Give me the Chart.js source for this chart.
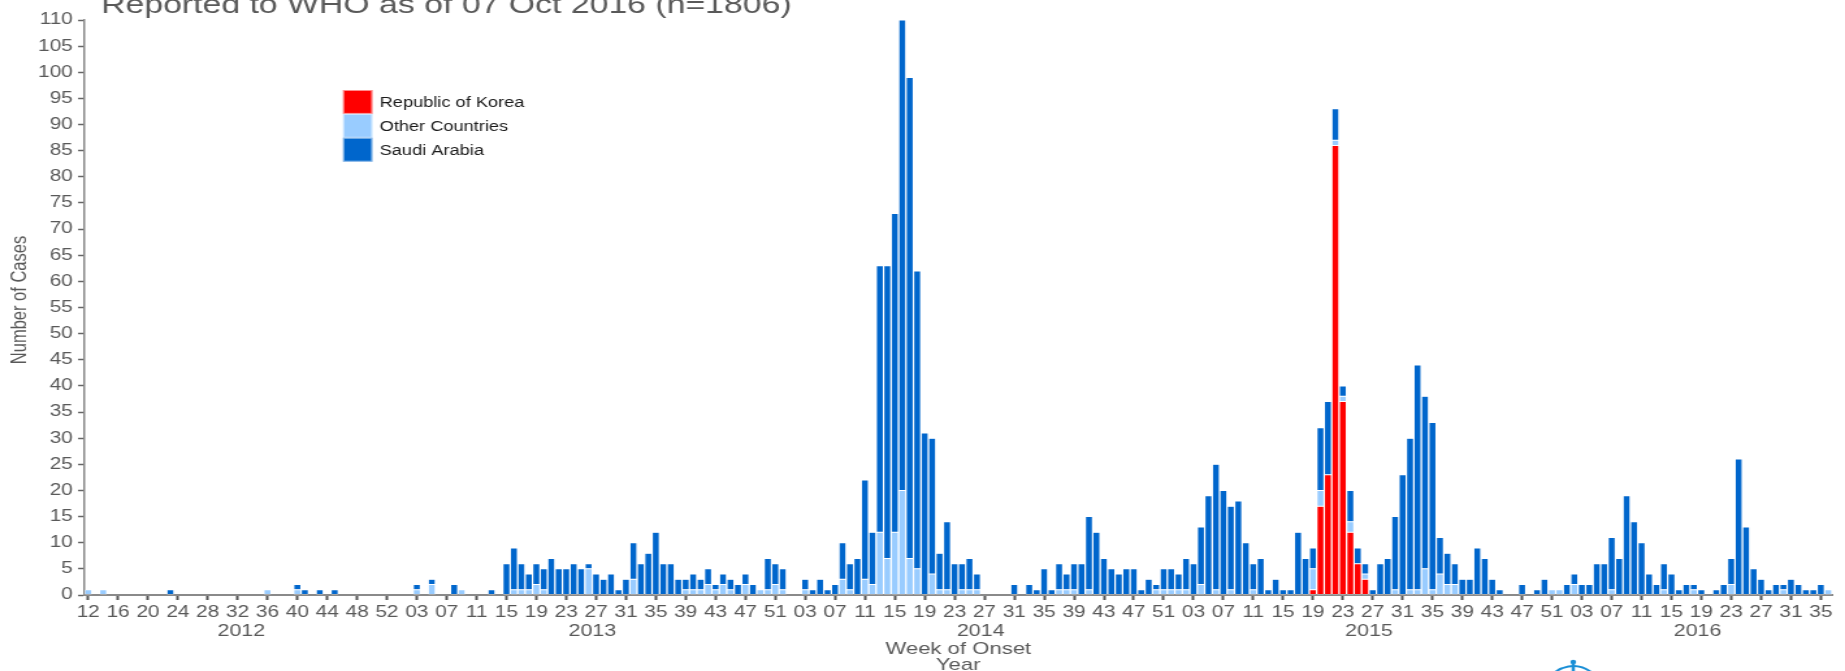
<!DOCTYPE html>
<html>
<head>
<meta charset="utf-8">
<script src="https://cdn.jsdelivr.net/npm/chart.js@4.4.1/dist/chart.umd.min.js"></script>
<style>
  html, body { margin: 0; padding: 0; background: #fff; }
</style>
</head>
<body>
<!-- the source picture is stretched sideways, so the canvas is drawn narrow and widened -->
<canvas id="c" width="1419" height="671" style="display:block;width:1845px;height:671px"></canvas>
<script>
const TITLE = 'Reported to WHO as of 07 Oct 2016 (n=1806)'
const years = [2012, 2013, 2014, 2015, 2016]
const firstWeek = [12, 1, 1, 1, 1]
const lastWeek = [53, 52, 52, 52, 36]

// cases per week of onset, rows of ten weeks
const korea = [
  // 2012 wk12-53
  0,0,0,0,0,0,0,0,0,0, 0,0,0,0,0,0,0,0,0,0, 0,0,0,0,0,0,0,0,0,0, 0,0,0,0,0,0,0,0,0,0, 0,0,
  // 2013
  0,0,0,0,0,0,0,0,0,0, 0,0,0,0,0,0,0,0,0,0, 0,0,0,0,0,0,0,0,0,0, 0,0,0,0,0,0,0,0,0,0, 0,0,0,0,0,0,0,0,0,0, 0,0,
  // 2014
  0,0,0,0,0,0,0,0,0,0, 0,0,0,0,0,0,0,0,0,0, 0,0,0,0,0,0,0,0,0,0, 0,0,0,0,0,0,0,0,0,0, 0,0,0,0,0,0,0,0,0,0, 0,0,
  // 2015
  0,0,0,0,0,0,0,0,0,0, 0,0,0,0,0,0,0,0,1,17, 23,86,37,12,6,3,0,0,0,0, 0,0,0,0,0,0,0,0,0,0, 0,0,0,0,0,0,0,0,0,0, 0,0,
  // 2016 wk1-36
  0,0,0,0,0,0,0,0,0,0, 0,0,0,0,0,0,0,0,0,0, 0,0,0,0,0,0,0,0,0,0, 0,0,0,0,0,0,
]
const otherCountries = [
  1,0,1,0,0,0,0,0,0,0, 0,0,0,0,0,0,0,0,0,0, 0,0,0,0,1,0,0,0,1,0, 0,0,0,0,0,0,0,0,0,0, 0,0,
  0,0,1,0,2,0,0,0,1,0, 0,0,0,0,0,1,1,1,2,1, 0,0,0,0,0,5,0,0,0,0, 0,3,0,0,0,0,0,0,1,1, 1,2,1,2,1,0,2,0,1,1, 2,1,
  0,0,1,0,0,0,0,3,1,0, 3,2,12,7,12,20,7,5,0,4, 1,1,0,1,1,1,0,0,0,0, 0,0,0,0,0,0,1,1,1,0, 1,0,0,0,0,0,0,0,0,1, 1,1,
  1,1,0,2,0,1,0,1,0,0, 1,0,0,0,0,0,0,0,4,3, 0,1,1,2,0,1,0,0,0,1, 0,1,1,5,1,4,2,2,0,0, 0,0,0,0,0,0,0,0,0,0, 1,1,
  0,2,0,0,0,0,1,0,0,0, 0,0,0,1,0,0,0,1,0,0, 0,0,2,0,0,0,0,0,0,1, 0,0,0,0,0,1,
]
const saudiArabia = [
  0,0,0,0,0,0,0,0,0,0, 0,1,0,0,0,0,0,0,0,0, 0,0,0,0,0,0,0,0,1,1, 0,1,0,1,0,0,0,0,0,0, 0,0,
  0,0,1,0,1,0,0,2,0,0, 0,0,1,0,6,8,5,3,4,4, 7,5,5,6,5,1,4,3,4,1, 3,7,6,8,12,6,6,3,2,3, 2,3,1,2,2,2,2,2,0,6, 4,4,
  0,0,2,1,3,1,2,7,5,7, 19,10,51,56,61,90,92,57,31,26, 7,13,6,5,6,3,0,0,0,0, 2,0,2,1,5,1,5,3,5,6, 14,12,7,5,4,5,5,1,3,1, 4,4,
  3,6,6,11,19,24,20,16,18,10, 5,7,1,3,1,1,12,7,4,12, 14,6,2,6,3,2,1,6,7,14, 23,29,43,33,32,7,6,4,3,3, 9,7,3,1,0,0,2,0,1,3, 0,0,
  2,2,2,2,6,6,10,7,19,14, 10,4,2,5,4,1,2,1,1,0, 1,2,5,26,13,5,3,1,2,1, 3,2,1,1,2,0,
]

const weeks = []
years.forEach((y, i) => {
  for (let w = firstWeek[i]; w <= lastWeek[i]; w++) weeks.push(String(w).padStart(2, '0'))
})

const FONT = '"Liberation Sans", Arial, Helvetica, sans-serif'
const GREY = '#595959'

const overlay = {
  id: 'overlay',
  afterDraw(chart) {
    const { ctx, chartArea: a, scales: { x } } = chart
    ctx.save()
    ctx.fillStyle = GREY
    ctx.textBaseline = 'alphabetic'

    ctx.font = '26px ' + FONT
    ctx.textAlign = 'left'
    ctx.fillText(TITLE, 77.7, 12.5)

    // year under each block of weeks
    ctx.font = '16.5px ' + FONT
    ctx.textAlign = 'center'
    let start = 0
    years.forEach((y, i) => {
      const n = lastWeek[i] - firstWeek[i] + 1
      const cx = (x.getPixelForValue(start) + x.getPixelForValue(start + n - 1)) / 2
      ctx.fillText(String(y), cx, 636)
      start += n
    })

    ctx.font = '17px ' + FONT
    const mid = (a.left + a.right) / 2
    ctx.fillText('Week of Onset', mid, 654)
    ctx.fillText('Year', mid, 670)

    ctx.save()
    ctx.translate(15.8, 300)
    ctx.rotate(-Math.PI / 2)
    ctx.font = '16.5px ' + FONT
    ctx.textBaseline = 'middle'
    ctx.fillText('Number of Cases', 0, 0)
    ctx.restore()

    // legend box, top to bottom in dataset order
    const boxX = 263.8, boxW = 22.6, boxH = 23.9
    chart.data.datasets.forEach((ds, i) => {
      const y0 = 90 + i * boxH
      ctx.fillStyle = ds.backgroundColor
      ctx.fillRect(boxX, y0, boxW, boxH)
      ctx.strokeStyle = 'rgba(255,255,255,.55)'
      ctx.lineWidth = 1
      ctx.strokeRect(boxX + .5, y0 + .5, boxW - 1, boxH - 1)
      ctx.fillStyle = '#1a1a1a'
      ctx.font = '14px ' + FONT
      ctx.textAlign = 'left'
      ctx.textBaseline = 'middle'
      ctx.fillText(ds.label, 292, y0 + boxH / 2 + 1)
    })

    // top of the WHO emblem, cut by the bottom edge
    ctx.strokeStyle = '#1a8fd6'
    ctx.fillStyle = '#1a8fd6'
    ctx.lineWidth = 2
    ctx.beginPath()
    ctx.ellipse(1210, 700, 24, 34, 0, Math.PI * 1.2, Math.PI * 1.8)
    ctx.stroke()
    ctx.beginPath()
    ctx.ellipse(1210, 708, 30, 42, 0, Math.PI * 1.12, Math.PI * 1.2)
    ctx.stroke()
    ctx.beginPath()
    ctx.ellipse(1210, 708, 30, 42, 0, Math.PI * 1.8, Math.PI * 1.88)
    ctx.stroke()
    ctx.lineWidth = 2.5
    ctx.beginPath()
    ctx.moveTo(1210, 662)
    ctx.lineTo(1210, 671)
    ctx.stroke()
    ctx.beginPath()
    ctx.arc(1210, 662, 2.2, 0, Math.PI * 2)
    ctx.fill()
    ctx.restore()
  }
}

const barStyle = { borderColor: '#ffffff', borderWidth: 0.5, borderSkipped: false, barPercentage: 0.96, categoryPercentage: 1 }

new Chart(document.getElementById('c'), {
  type: 'bar',
  data: {
    labels: weeks,
    datasets: [
      { label: 'Republic of Korea', data: korea, backgroundColor: '#FF0000', ...barStyle },
      { label: 'Other Countries', data: otherCountries, backgroundColor: '#99CCFF', ...barStyle },
      { label: 'Saudi Arabia', data: saudiArabia, backgroundColor: '#0066CC', ...barStyle },
    ],
  },
  options: {
    responsive: false, devicePixelRatio: 1, animation: false,
    layout: { padding: { top: 20, right: 10, left: 0, bottom: 0 } },
    plugins: { legend: { display: false }, tooltip: { enabled: false } },
    scales: {
      x: {
        stacked: true,
        afterFit: s => { s.height = 76 },
        border: { color: '#8a8a8a', width: 2 },
        grid: {
          offset: false, drawOnChartArea: false, drawTicks: true, tickLength: 5, tickWidth: 2,
          tickColor: c => (c.index % 4 === 0 ? '#555555' : 'rgba(0,0,0,0)'),
        },
        ticks: {
          autoSkip: false, maxRotation: 0, minRotation: 0, padding: 3,
          color: GREY, font: { family: FONT, size: 16 },
          callback: function (v, i) { return i % 4 === 0 ? this.getLabelForValue(v) : '' },
        },
      },
      y: {
        stacked: true, min: 0, max: 110,
        afterFit: s => { s.width = 65 },
        border: { color: '#8a8a8a', width: 1.5 },
        grid: { drawOnChartArea: false, drawTicks: true, tickLength: 5, tickWidth: 1.5, tickColor: '#666666' },
        ticks: { stepSize: 5, padding: 4, color: GREY, font: { family: FONT, size: 16 } },
      },
    },
  },
  plugins: [overlay],
})
</script>
</body>
</html>
